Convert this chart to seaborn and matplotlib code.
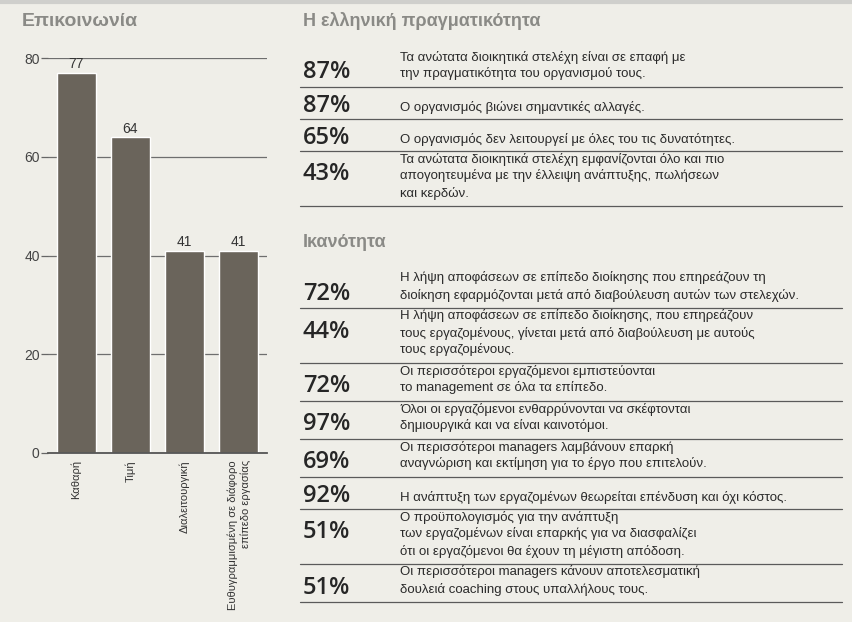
import matplotlib
matplotlib.use("Agg")
import matplotlib.pyplot as plt
from matplotlib import font_manager
import seaborn as sns

# --- data ---
comm_labels = ['Καθαρή', 'Τιμή', 'Διαλειτουργική',
               'Ευθυγραμμισμένη σε διάφορο\nεπίπεδο εργασίας']
comm_values = [77, 64, 41, 41]

reality_pct = [87, 87, 65, 43]
reality_text = [
    'Τα ανώτατα διοικητικά στελέχη είναι σε επαφή με\nτην πραγματικότητα του οργανισμού τους.',
    'Ο οργανισμός βιώνει σημαντικές αλλαγές.',
    'Ο οργανισμός δεν λειτουργεί με όλες του τις δυνατότητες.',
    'Τα ανώτατα διοικητικά στελέχη εμφανίζονται όλο και πιο\n'
    'απογοητευμένα με την έλλειψη ανάπτυξης, πωλήσεων\nκαι κερδών.',
]

skill_pct = [72, 44, 72, 97, 69, 92, 51, 51]
skill_text = [
    'Η λήψη αποφάσεων σε επίπεδο διοίκησης που επηρεάζουν τη\n'
    'διοίκηση εφαρμόζονται μετά από διαβούλευση αυτών των στελεχών.',
    'Η λήψη αποφάσεων σε επίπεδο διοίκησης, που επηρεάζουν\n'
    'τους εργαζομένους, γίνεται μετά από διαβούλευση με αυτούς\nτους εργαζομένους.',
    'Οι περισσότεροι εργαζόμενοι εμπιστεύονται\nτο management σε όλα τα επίπεδο.',
    'Όλοι οι εργαζόμενοι ενθαρρύνονται να σκέφτονται\nδημιουργικά και να είναι καινοτόμοι.',
    'Οι περισσότεροι managers λαμβάνουν επαρκή\nαναγνώριση και εκτίμηση για το έργο που επιτελούν.',
    'Η ανάπτυξη των εργαζομένων θεωρείται επένδυση και όχι κόστος.',
    'Ο προϋπολογισμός για την ανάπτυξη\nτων εργαζομένων είναι επαρκής για να διασφαλίζει\n'
    'ότι οι εργαζόμενοι θα έχουν τη μέγιστη απόδοση.',
    'Οι περισσότεροι managers κάνουν αποτελεσματική\nδουλειά coaching στους υπαλλήλους τους.',
]

# --- fonts / colours ---
installed = {f.name for f in font_manager.fontManager.ttflist}
narrow = 'Liberation Sans Narrow' if 'Liberation Sans Narrow' in installed else 'Liberation Sans'
big = 'Open Sans' if 'Open Sans' in installed else 'Liberation Sans'

bg = '#efeee8'
bar_color = '#6a645b'
title_color = '#8a8a86'
ink = '#2a2a2a'

sns.set_style('white')
plt.rcParams['font.family'] = [narrow, 'DejaVu Sans']

W, H = 853, 622
fig = plt.figure(figsize=(W / 100, H / 100), dpi=100, facecolor=bg)

# full-figure axes in pixel units for the text panel
tax = fig.add_axes([0, 0, 1, 1])
tax.set_xlim(0, W)
tax.set_ylim(H, 0)
tax.axis('off')
tax.set_facecolor('none')

tax.plot([0, W], [2, 2], color='#cfcfcc', lw=3, solid_capstyle='butt')

# --- left: bar chart ---
ax = fig.add_axes([48 / W, (H - 453) / H, 219 / W, 395 / H])
ax.set_facecolor('none')
sns.barplot(x=comm_labels, y=comm_values, color=bar_color, saturation=1,
            width=0.72, ax=ax, zorder=2)
ax.bar_label(ax.containers[0], padding=1, fontsize=10, color='#333333')
ax.set_ylim(0, 80)
ax.set_xlim(-0.52, 3.52)
ax.set_yticks([0, 20, 40, 60, 80])
ax.yaxis.grid(True, color='#6e6e6e', lw=0.9)
ax.set_axisbelow(True)
for s in ['top', 'right', 'left']:
    ax.spines[s].set_visible(False)
ax.spines['bottom'].set_color('#555555')
ax.spines['bottom'].set_linewidth(1.3)
ax.tick_params(axis='y', length=5, width=0.9, color='#666666', pad=1,
               labelsize=10, labelcolor='#444444', left=True)
ax.tick_params(axis='x', length=0, pad=5, labelsize=8, labelcolor='#333333')
for lab in ax.get_xticklabels():
    lab.set_rotation(90)
    lab.set_va('top')
    lab.set_multialignment('right')
    lab.set_linespacing(1.3)
ax.set_xlabel('')
ax.set_ylabel('')

tax.text(22, 26, 'Επικοινωνία', fontsize=14, fontweight='bold',
         color=title_color, va='baseline')


# --- right: text panel ---
def draw_section(title, y_title, pcts, texts):
    tax.text(303, y_title + 6, title, fontsize=13, fontweight='bold',
             color=title_color, va='baseline')
    y = y_title + 29
    for p, t in zip(pcts, texts):
        lines = t.split('\n')
        n = len(lines)
        pad = 12 if n == 1 else 14
        h = 32 if n == 1 else 7 + 17 * (n - 1) + pad
        first = y + h - pad - 17 * (n - 1)
        for k, line in enumerate(lines):
            tax.text(400, first + 17 * k + 4.5, line, fontsize=9.5,
                     color=ink, va='baseline')
        kp = min(n - 1, 1)
        tax.text(303, first + 17 * kp + 5.5, f'{p}%', fontsize=17,
                 fontweight='semibold', family=[big, 'DejaVu Sans'],
                 color='#262626', va='baseline')
        y += h
        tax.plot([300, 842], [y, y], color='#5a5a5a', lw=0.9)
    return y


end1 = draw_section('Η ελληνική πραγματικότητα', 20, reality_pct, reality_text)
draw_section('Ικανότητα', end1 + 35, skill_pct, skill_text)

fig.savefig('out.png', dpi=100, facecolor=bg)
